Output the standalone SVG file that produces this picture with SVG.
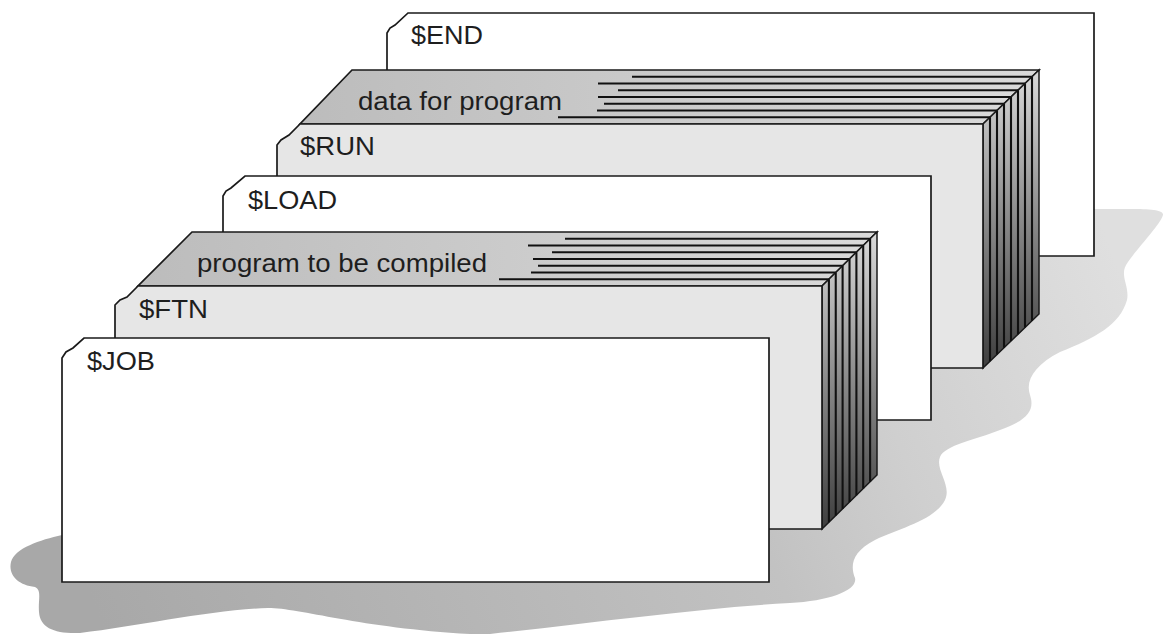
<svg xmlns="http://www.w3.org/2000/svg" width="1164" height="635" viewBox="0 0 1164 635">
  <defs>
    <linearGradient id="shadowFill" gradientUnits="userSpaceOnUse" x1="100" y1="620" x2="1100" y2="220">
      <stop offset="0" stop-color="#a8a8a8"/>
      <stop offset="0.6" stop-color="#c2c2c2"/>
      <stop offset="0.75" stop-color="#cfcfcf"/>
      <stop offset="1" stop-color="#dfdfdf"/>
    </linearGradient>
    <linearGradient id="topFace" x1="0" y1="0" x2="1" y2="0">
      <stop offset="0" stop-color="#bcbcbc"/>
      <stop offset="1" stop-color="#dadada"/>
    </linearGradient>
    <linearGradient id="sideFace" x1="0" y1="0" x2="0" y2="1">
      <stop offset="0" stop-color="#dadada"/>
      <stop offset="0.5" stop-color="#8a8a8a"/>
      <stop offset="1" stop-color="#3e3e3e"/>
    </linearGradient>
  </defs>
  <style>
    .card { stroke: #1a1a1a; stroke-width: 1.7; stroke-linejoin: miter; }
    .white { fill: #ffffff; }
    .front { fill: #e6e6e6; }
    .top { fill: url(#topFace); stroke: #1a1a1a; stroke-width: 1.7; }
    .side { fill: url(#sideFace); stroke: #1a1a1a; stroke-width: 1.5; }
    .edge { stroke: #111111; stroke-width: 2.1; fill: none; }
    .label { font-family: "Liberation Sans", Arial, Helvetica, sans-serif; font-size: 26px; fill: #1e1e1e; }
  </style>

  <!-- soft floor shadow under the stacked decks -->
  <path id="shadow" fill="url(#shadowFill)" d="M62,535 C40,540 15,548 11,562 C8,575 18,585 35,587 C42,590 38,600 39,612 C40,628 55,634 80,633 C140,626 210,610 268,608 C300,608 360,628 470,634 L490,634 C600,622 700,608 790,603 C830,601 858,590 855,578 C850,565 852,552 875,540 C900,528 935,520 945,500 C952,485 935,470 940,457 C945,445 975,440 1000,430 C1028,420 1035,410 1030,395 C1025,380 1035,365 1060,352 C1095,338 1120,325 1127,300 C1130,285 1118,275 1128,262 C1140,245 1160,225 1163,215 C1164,210 1150,209 1130,209 L1090,209 L1000,250 L500,400 Z"/>

  <!-- $END card -->
  <g id="card-end">
    <path class="card white" d="M387,256 V33 L390,28 L395,25 L408,13 H1094 V256 Z"/>
    <text class="label" x="411" y="44" textLength="72" lengthAdjust="spacingAndGlyphs">$END</text>
  </g>

  <!-- data deck: top edges and side edges of the card stack -->
  <g id="deck-data">
    <polygon class="top" points="352,70 1039,70 983,124 300,124"/>
    <g class="edge">
      <line x1="632" y1="76.75" x2="1032" y2="76.75"/>
      <line x1="598" y1="83.5" x2="1025" y2="83.5"/>
      <line x1="618" y1="90.25" x2="1018" y2="90.25"/>
      <line x1="598" y1="97" x2="1011" y2="97"/>
      <line x1="604" y1="103.75" x2="1004" y2="103.75"/>
      <line x1="597" y1="110.5" x2="997" y2="110.5"/>
      <line x1="558" y1="117.25" x2="990" y2="117.25"/>
    </g>
    <polygon class="side" points="983,124 1039,70 1039,314 983,368"/>
    <g class="edge">
      <line x1="990" y1="117.25" x2="990" y2="361.25"/>
      <line x1="997" y1="110.5" x2="997" y2="354.5"/>
      <line x1="1004" y1="103.75" x2="1004" y2="347.75"/>
      <line x1="1011" y1="97" x2="1011" y2="341"/>
      <line x1="1018" y1="90.25" x2="1018" y2="334.25"/>
      <line x1="1025" y1="83.5" x2="1025" y2="327.5"/>
      <line x1="1032" y1="76.75" x2="1032" y2="320.75"/>
    </g>
    <text class="label" x="358" y="110" textLength="204" lengthAdjust="spacingAndGlyphs">data for program</text>
  </g>

  <!-- $RUN card -->
  <g id="card-run">
    <path class="card front" d="M277,368 V145 L281,140 L289,135 L300,124 H983 V368 Z"/>
    <text class="label" x="300" y="155" textLength="75" lengthAdjust="spacingAndGlyphs">$RUN</text>
  </g>

  <!-- $LOAD card -->
  <g id="card-load">
    <path class="card white" d="M223,420 V196 L226,191 L231,188 L245,176 H931 V420 Z"/>
    <text class="label" x="248" y="209" textLength="89" lengthAdjust="spacingAndGlyphs">$LOAD</text>
  </g>

  <!-- program deck: top edges and side edges of the card stack -->
  <g id="deck-program">
    <polygon class="top" points="192,232 877,232 822,286 138,286"/>
    <g class="edge">
      <line x1="565" y1="238.75" x2="870.1" y2="238.75"/>
      <line x1="528" y1="245.5" x2="863.2" y2="245.5"/>
      <line x1="552" y1="252.25" x2="856.4" y2="252.25"/>
      <line x1="533" y1="259" x2="849.5" y2="259"/>
      <line x1="538" y1="265.75" x2="842.6" y2="265.75"/>
      <line x1="531" y1="272.5" x2="835.75" y2="272.5"/>
      <line x1="499" y1="279.25" x2="828.9" y2="279.25"/>
    </g>
    <polygon class="side" points="822,286 877,232 877,475 822,529"/>
    <g class="edge">
      <line x1="828.9" y1="279.25" x2="828.9" y2="522.25"/>
      <line x1="835.75" y1="272.5" x2="835.75" y2="515.5"/>
      <line x1="842.6" y1="265.75" x2="842.6" y2="508.75"/>
      <line x1="849.5" y1="259" x2="849.5" y2="502"/>
      <line x1="856.4" y1="252.25" x2="856.4" y2="495.25"/>
      <line x1="863.2" y1="245.5" x2="863.2" y2="488.5"/>
      <line x1="870.1" y1="238.75" x2="870.1" y2="481.75"/>
    </g>
    <text class="label" x="197" y="272" textLength="290" lengthAdjust="spacingAndGlyphs">program to be compiled</text>
  </g>

  <!-- $FTN card -->
  <g id="card-ftn">
    <path class="card front" d="M115,529 V305 L120,300 L127,297 L138,286 H822 V529 Z"/>
    <text class="label" x="139" y="318" textLength="69" lengthAdjust="spacingAndGlyphs">$FTN</text>
  </g>

  <!-- $JOB card -->
  <g id="card-job">
    <path class="card white" d="M62,582 V358 L66,352 L73,348 L84,338 H769 V582 Z"/>
    <text class="label" x="87" y="370" textLength="68" lengthAdjust="spacingAndGlyphs">$JOB</text>
  </g>
</svg>
